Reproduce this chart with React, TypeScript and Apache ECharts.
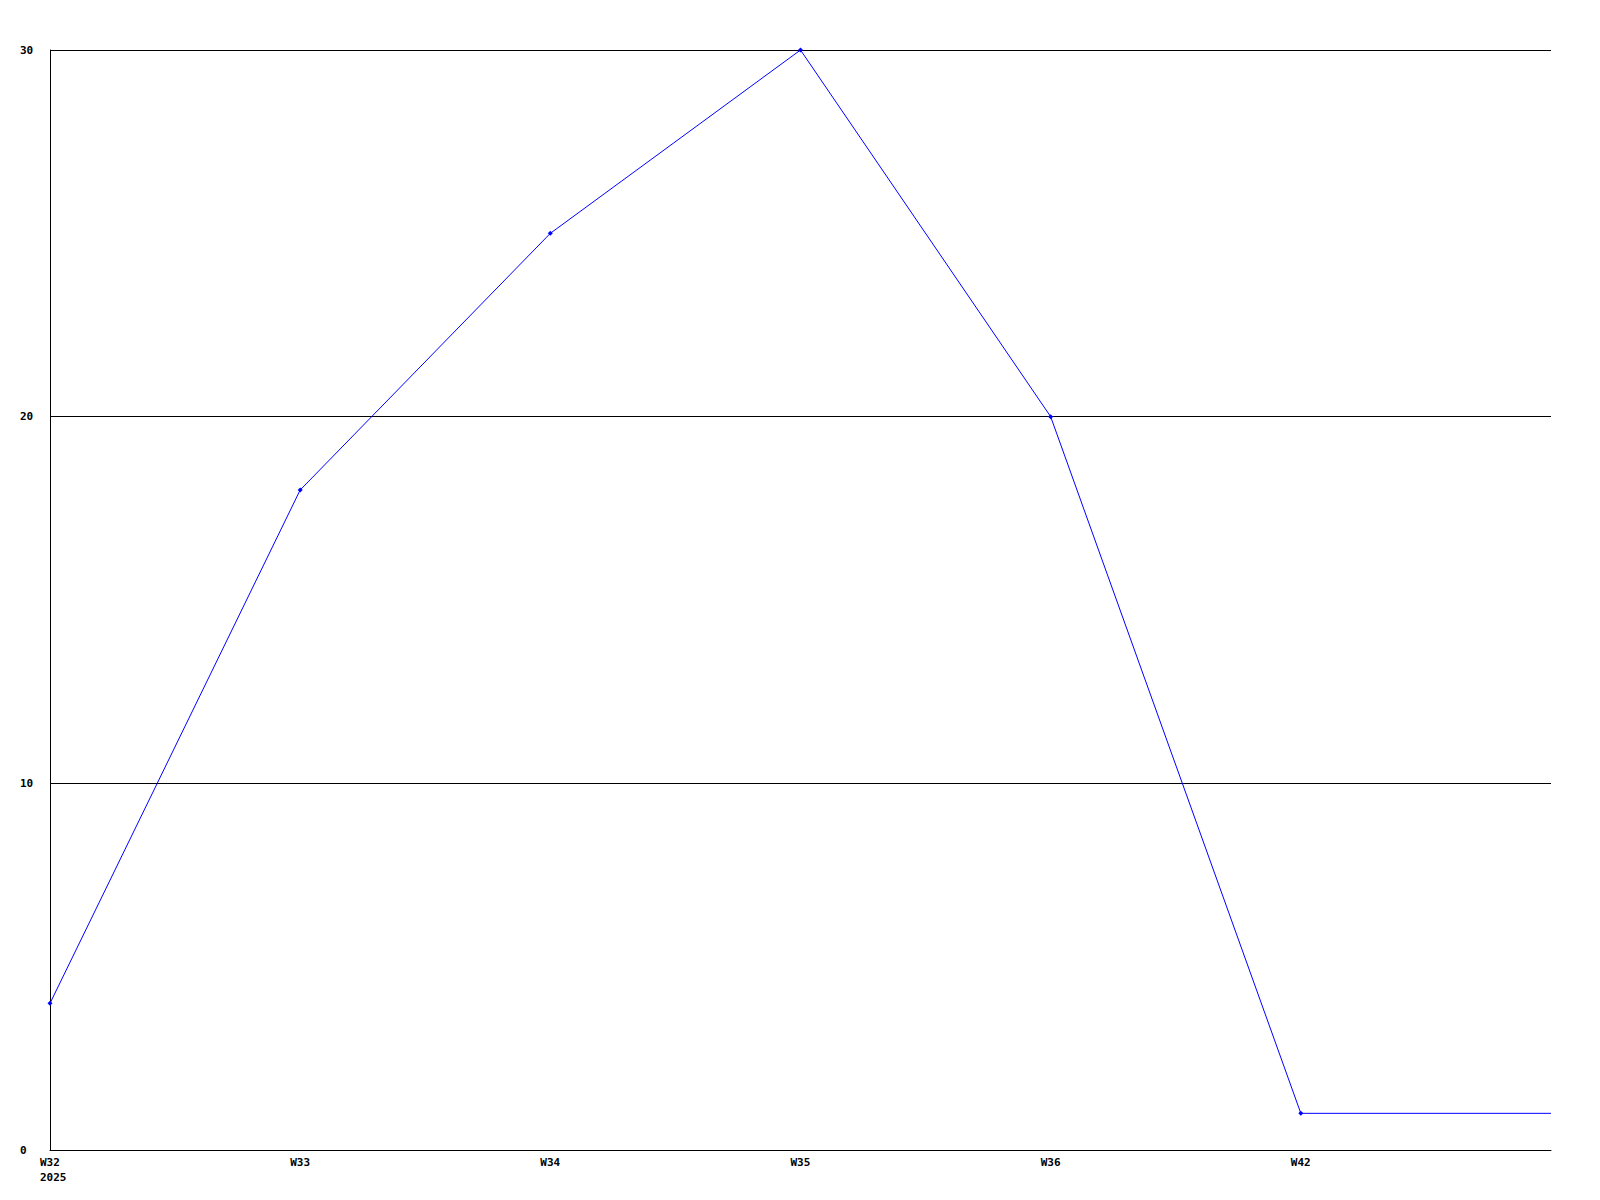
import React, { useEffect, useRef } from "react";
import * as echarts from "echarts";

const categories = ["W32\n2025", "W33", "W34", "W35", "W36", "W42", ""];
const values = [4, 18, 25, 30, 20, 1, 1];
const yTicks = [0, 10, 20, 30];

export default function App() {
  const ref = useRef<HTMLDivElement>(null);
  useEffect(() => {
    const chart = echarts.init(ref.current!, undefined, { renderer: "svg" });
    const labelFont = {
      fontFamily: "DejaVu Sans Mono",
      fontWeight: "bold" as const,
      fontSize: 11,
      color: "#000",
    };
    const lastIdx = values.length - 1;
    chart.setOption({
      animation: false,
      backgroundColor: "#fff",
      grid: { left: 50, top: 50, right: 49, bottom: 50, containLabel: false },
      xAxis: {
        type: "category",
        data: categories,
        boundaryGap: false,
        axisLine: { show: true, lineStyle: { color: "#000", width: 1 } },
        axisTick: { show: false },
        splitLine: { show: false },
        axisLabel: {
          ...labelFont,
          align: "left",
          verticalAlign: "top",
          padding: [0, 0, 0, -10],
          margin: 5,
          lineHeight: 15,
          interval: 0,
        },
      },
      yAxis: {
        type: "value",
        min: yTicks[0],
        max: yTicks[yTicks.length - 1],
        interval: 10,
        axisLine: { show: true, lineStyle: { color: "#000", width: 1 } },
        axisTick: { show: false },
        splitLine: { show: true, lineStyle: { color: "#000", width: 1 } },
        axisLabel: { ...labelFont, align: "left", margin: 30 },
      },
      series: [
        {
          type: "line",
          data: values.map((v, i) =>
            i === lastIdx ? { value: v, symbol: "none" } : v
          ),
          lineStyle: { color: "#0000ff", width: 1 },
          itemStyle: { color: "#0000ff" },
          symbol: "diamond",
          symbolSize: 5,
          showSymbol: true,
        },
      ],
    });
    return () => chart.dispose();
  }, []);
  return (
    <div
      ref={ref}
      style={{ position: "fixed", left: 0, top: 0, width: 1600, height: 1200, background: "#fff" }}
    />
  );
}
